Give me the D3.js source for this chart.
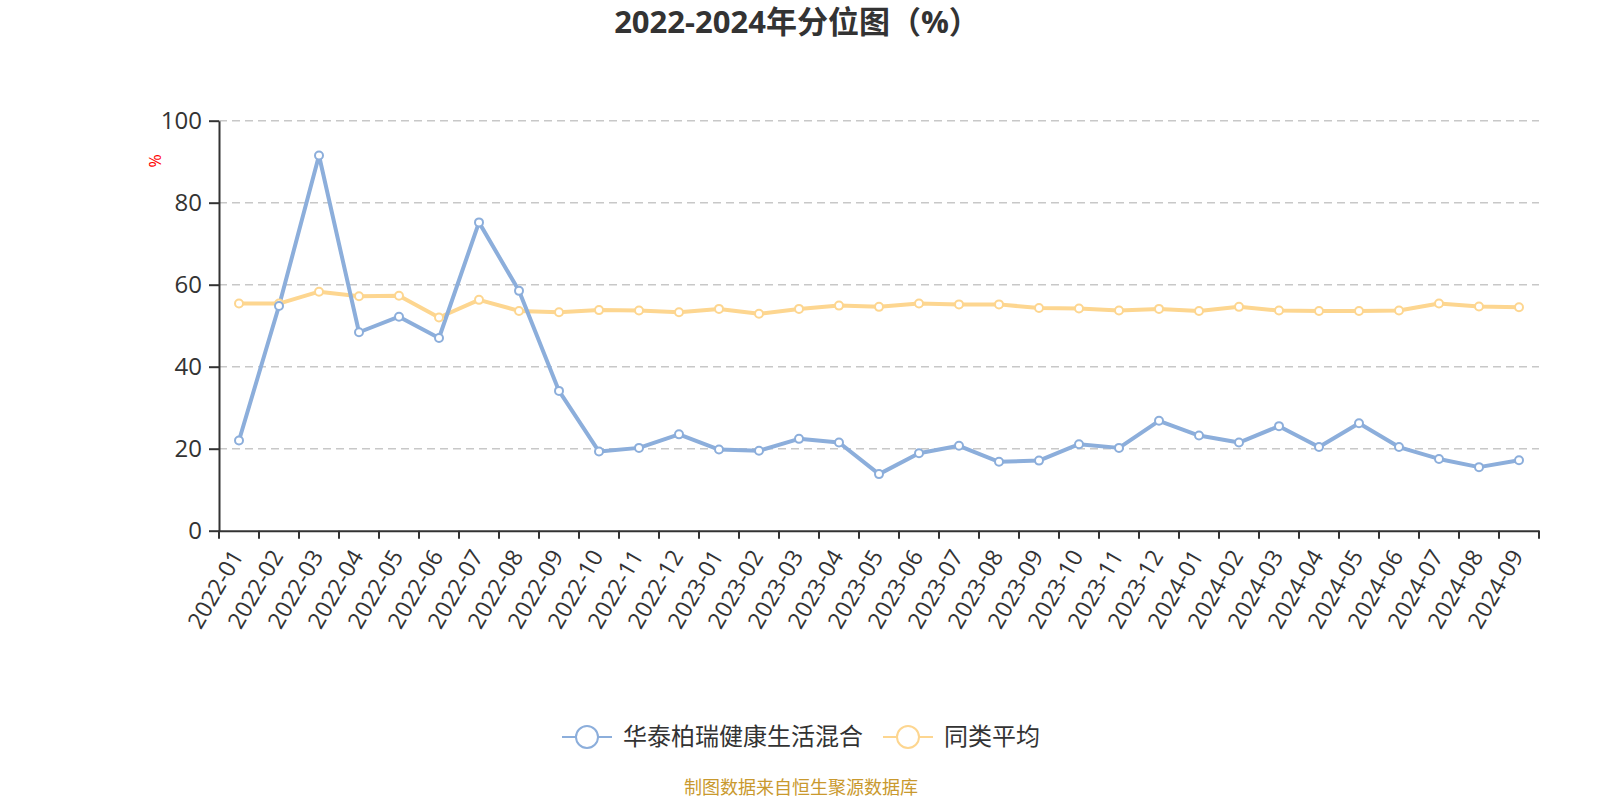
<!DOCTYPE html>
<meta charset="utf-8">
<style>
body { margin: 0; background: #fff; }
svg { font-family: "Open Sans", "Noto Sans CJK SC", sans-serif; }
.grid line { stroke: #c8c8c8; stroke-dasharray: 8 5; stroke-width: 1.5; }
.axis path, .axis line { stroke: #333; stroke-width: 2; }
.axis text { fill: #333; font-size: 24px; font-family: "Open Sans", "Noto Sans CJK SC", sans-serif; }
.xaxis text { font-size: 23px; }
.line { fill: none; stroke-width: 4; stroke-linejoin: round; }
.dot { fill: #fff; stroke-width: 2; }
</style>
<body>
<div id="chart"></div>
<script src="https://d3js.org/d3.v7.min.js"></script>
<script>
var months = ["2022-01", "2022-02", "2022-03", "2022-04", "2022-05", "2022-06", "2022-07", "2022-08", "2022-09",
  "2022-10", "2022-11", "2022-12", "2023-01", "2023-02", "2023-03", "2023-04", "2023-05", "2023-06", "2023-07",
  "2023-08", "2023-09", "2023-10", "2023-11", "2023-12", "2024-01", "2024-02", "2024-03", "2024-04", "2024-05",
  "2024-06", "2024-07", "2024-08", "2024-09"];

// 华泰柏瑞健康生活混合
var fundValues = [22.0, 54.8, 91.5, 48.4, 52.2, 47.0, 75.2, 58.5, 34.1,
  19.3, 20.2, 23.5, 19.8, 19.5, 22.4, 21.5, 13.8, 18.9, 20.7,
  16.8, 17.1, 21.1, 20.2, 26.8, 23.2, 21.5, 25.5, 20.4, 26.2,
  20.4, 17.5, 15.5, 17.2];

// 同类平均
var avgValues = [55.4, 55.4, 58.3, 57.2, 57.3, 52.0, 56.3, 53.6, 53.3,
  53.8, 53.7, 53.3, 54.1, 52.9, 54.1, 54.9, 54.6, 55.4, 55.2,
  55.2, 54.3, 54.2, 53.7, 54.1, 53.6, 54.6, 53.7, 53.6, 53.6,
  53.7, 55.4, 54.7, 54.5];

var yTicks = [0, 20, 40, 60, 80, 100];
var seriesNames = ["华泰柏瑞健康生活混合", "同类平均"];
var seriesColors = ["#8caedb", "#fdd690"];

var W = 1600, H = 800;
var svg = d3.select("#chart").append("svg").attr("width", W).attr("height", H);

var x = d3.scaleBand().domain(months).range([219, 1539]);
var y = d3.scaleLinear().domain([0, 100]).range([530.7, 120.7]);

// title
svg.append("text")
  .attr("x", 797).attr("y", 33)
  .attr("text-anchor", "middle")
  .style("font-size", "31px").style("font-weight", "bold").style("fill", "#333")
  .text("2022-2024年分位图（%）");

// grid
svg.append("g").attr("class", "grid")
  .selectAll("line").data(yTicks.filter(function(d) { return d > 0; }))
  .enter().append("line")
  .attr("x1", 219).attr("x2", 1539)
  .attr("y1", function(d) { return y(d); }).attr("y2", function(d) { return y(d); });

// y axis
var yAxis = svg.append("g").attr("class", "axis")
  .attr("transform", "translate(219,0)")
  .call(d3.axisLeft(y).tickValues(yTicks).tickSize(10).tickPadding(7).tickSizeOuter(0));
yAxis.selectAll("text").attr("dy", "0.33em");

svg.append("text")
  .attr("transform", "translate(161,161) rotate(-90)")
  .attr("text-anchor", "middle")
  .style("font-size", "16px").style("fill", "red")
  .text("%");

// x axis
var xAxis = svg.append("g").attr("class", "axis xaxis")
  .attr("transform", "translate(0,530.7)")
  .call(d3.axisBottom(x).tickSize(0).tickSizeOuter(0));
xAxis.selectAll(".tick text")
  .attr("text-anchor", "end")
  .attr("dy", "0.35em")
  .attr("transform", "translate(-2,21) rotate(-60)")
  .attr("y", 0).attr("x", 0);
xAxis.selectAll(".btick")
  .data(months.concat(["end"]))
  .enter().append("line")
  .attr("class", "btick")
  .attr("x1", function(d, i) { return 219 + i * x.step(); })
  .attr("x2", function(d, i) { return 219 + i * x.step(); })
  .attr("y1", 0).attr("y2", 8);

// series
var series = [avgValues, fundValues];
var colors = [seriesColors[1], seriesColors[0]];
var line = d3.line()
  .x(function(d, i) { return x(months[i]) + x.bandwidth() / 2; })
  .y(function(d) { return y(d); });

series.forEach(function(vals, k) {
  svg.append("path").datum(vals)
    .attr("class", "line")
    .attr("stroke", colors[k])
    .attr("d", line);
});
series.forEach(function(vals, k) {
  svg.selectAll(".dot" + k).data(vals)
    .enter().append("circle")
    .attr("class", "dot dot" + k)
    .attr("stroke", colors[k])
    .attr("cx", function(d, i) { return x(months[i]) + x.bandwidth() / 2; })
    .attr("cy", function(d) { return y(d); })
    .attr("r", 4);
});

// legend
var legendX = [562, 883];
var legend = svg.append("g");
seriesNames.forEach(function(name, i) {
  var g = legend.append("g").attr("transform", "translate(" + legendX[i] + ",737)");
  g.append("line").attr("x1", 0).attr("x2", 50).attr("y1", 0).attr("y2", 0)
    .attr("stroke", seriesColors[i]).attr("stroke-width", 2);
  g.append("circle").attr("cx", 25).attr("cy", 0).attr("r", 11)
    .attr("fill", "#fff").attr("stroke", seriesColors[i]).attr("stroke-width", 2);
  g.append("text").attr("x", 61).attr("y", 0).attr("dy", "0.35em")
    .style("font-size", "24px").style("fill", "#333")
    .text(name);
});

// source note
svg.append("text")
  .attr("x", 801).attr("y", 794)
  .attr("text-anchor", "middle")
  .style("font-size", "18px").style("fill", "#c9992e")
  .text("制图数据来自恒生聚源数据库");
</script>
</body>
